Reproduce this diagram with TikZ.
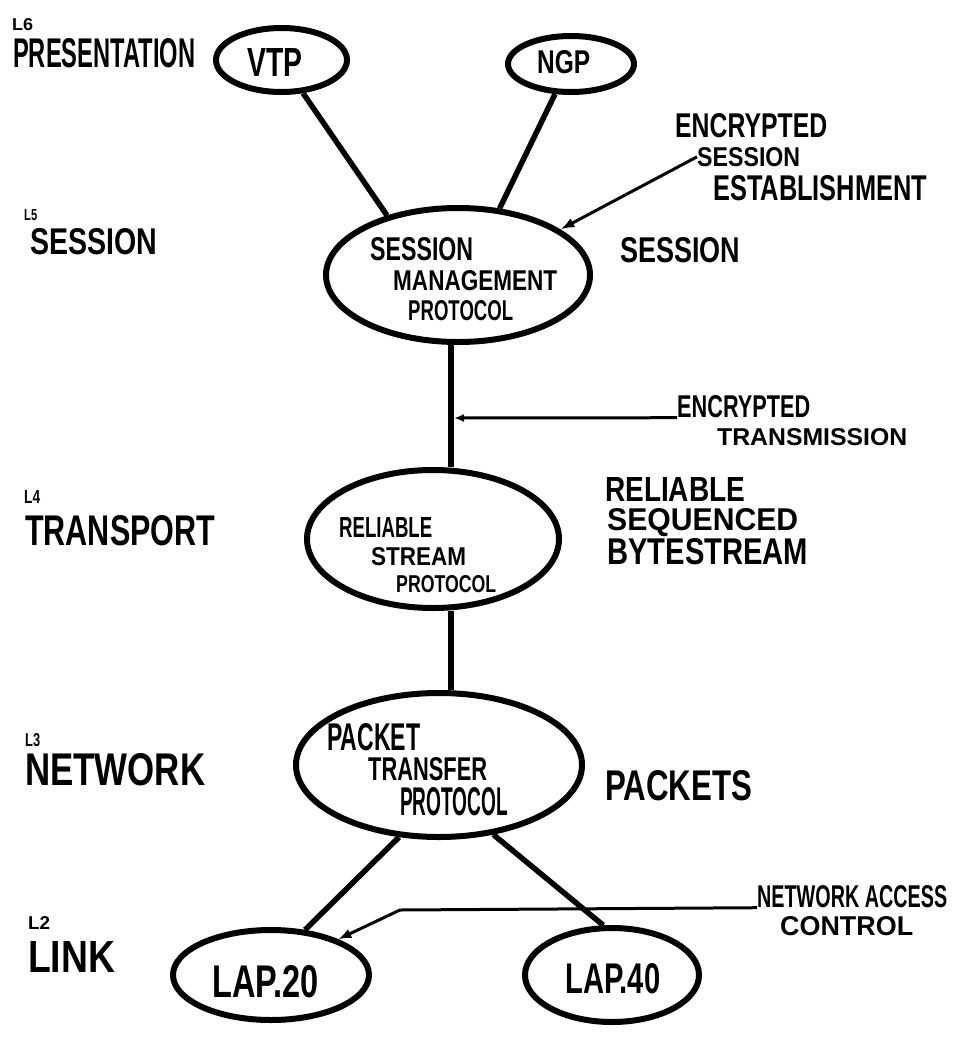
\documentclass[tikz,border=0pt]{standalone}
\usepackage{fontspec}
\setmainfont{Liberation Sans}
\usepackage{graphicx}
\usetikzlibrary{arrows.meta,shapes.geometric}
\newcommand{\fitbox}[3]{\resizebox{#1pt}{#2pt}{\bfseries #3}}
\begin{document}
\begin{tikzpicture}[x=1pt,y=-1pt,
  txt/.style={inner sep=0pt,anchor=north west},
  proto/.style={ellipse,draw=black,line width=6pt,inner sep=0pt},
  conn/.style={line width=5.5pt},
  pointer/.style={line width=3pt,-{Latex[length=14pt,width=10pt]}}]
\useasboundingbox (0,0) rectangle (961,1037);
\fill[white] (0,0) rectangle (961,1037);
% layer labels
\node[txt] (l6) at (12,18) {\fitbox{21}{12}{L6}};
\node[txt] (pres) at (13,38) {\fitbox{182}{29}{PRESENTATION}};
\node[txt] (l5) at (24,209) {\fitbox{13}{11}{L5}};
\node[txt] (sesl) at (30,228) {\fitbox{127}{26}{SESSION}};
\node[txt] (l4) at (24,490) {\fitbox{16}{13}{L4}};
\node[txt] (trans) at (25,515) {\fitbox{190}{30}{TRANSPORT}};
\node[txt] (l3) at (25,733) {\fitbox{15}{13}{L3}};
\node[txt] (net) at (25,753) {\fitbox{180}{32}{NETWORK}};
\node[txt] (l2) at (28,916) {\fitbox{22}{13}{L2}};
\node[txt] (link) at (28,941) {\fitbox{87}{31}{LINK}};
% protocol ellipses
\node[proto,minimum width=131pt,minimum height=64pt] (vtp) at (281.5,60) {};
\node[proto,minimum width=126pt,minimum height=56pt] (ngp) at (571,64) {};
\node[proto,minimum width=264pt,minimum height=134pt] (smp) at (458,275) {};
\node[proto,minimum width=252pt,minimum height=138pt] (rsp) at (433,539) {};
\node[proto,minimum width=286pt,minimum height=144pt] (ptp) at (439,765) {};
\node[proto,minimum width=196pt,minimum height=90pt] (lap20) at (271,975) {};
\node[proto,minimum width=174pt,minimum height=94pt] (lap40) at (612,975) {};
% texts in ellipses
\node[txt] (vtpt) at (247,48) {\fitbox{55}{28}{VTP}};
\node[txt] (ngpt) at (537,50) {\fitbox{53}{23}{NGP}};
\node[txt] (smp1) at (370,237) {\fitbox{103}{23}{SESSION}};
\node[txt] (smp2) at (393,270) {\fitbox{164}{20}{MANAGEMENT}};
\node[txt] (smp3) at (408,300) {\fitbox{105}{20}{PROTOCOL}};
\node[txt] (rsp1) at (339,517) {\fitbox{93}{20}{RELIABLE}};
\node[txt] (rsp2) at (371,547) {\fitbox{95}{18}{STREAM}};
\node[txt] (rsp3) at (396,575) {\fitbox{100}{17}{PROTOCOL}};
\node[txt] (ptp1) at (327,723) {\fitbox{93}{27}{PACKET}};
\node[txt] (ptp2) at (368,757) {\fitbox{119}{23}{TRANSFER}};
\node[txt] (ptp3) at (400,787) {\fitbox{108}{28}{PROTOCOL}};
\node[txt] (lap20t) at (212,965) {\fitbox{106}{32}{LAP.20}};
\node[txt] (lap40t) at (565,963) {\fitbox{95}{30}{LAP.40}};
% right side labels
\node[txt] (ese1) at (675,113) {\fitbox{152}{24}{ENCRYPTED}};
\node[txt] (ese2) at (697,147) {\fitbox{103}{19}{SESSION}};
\node[txt] (ese3) at (713,175) {\fitbox{214}{25}{ESTABLISHMENT}};
\node[txt] (sesr) at (620,237) {\fitbox{120}{25}{SESSION}};
\node[txt] (et1) at (677,395) {\fitbox{133}{22}{ENCRYPTED}};
\node[txt] (et2) at (717,428) {\fitbox{190}{17}{TRANSMISSION}};
\node[txt] (rsb1) at (605,477) {\fitbox{140}{24}{RELIABLE}};
\node[txt] (rsb2) at (607,508) {\fitbox{191}{22}{SEQUENCED}};
\node[txt] (rsb3) at (607,538) {\fitbox{201}{26}{BYTESTREAM}};
\node[txt] (pkts) at (605,770) {\fitbox{147}{30}{PACKETS}};
\node[txt] (nac1) at (757,885) {\fitbox{190}{22}{NETWORK ACCESS}};
\node[txt] (nac2) at (780,916) {\fitbox{133}{19}{CONTROL}};
% connectors
\coordinate (spine) at (451,0);
\draw[conn] (vtp.-57) -- (smp.140);
\draw[conn] (ngp.-118) -- (smp.58);
\draw[conn] (smp.south -| spine) -- (rsp.north -| spine);
\draw[conn] (rsp.south -| spine) -- (ptp.north -| spine);
\draw[conn] (ptp.-119) -- (lap20.53);
\draw[conn] (ptp.-52) -- (lap40.100);
% pointers
\draw[pointer] (ese2.west) -- (smp.24);
\coordinate (etend) at (454,418);
\draw[line width=3pt,-{Latex[length=10pt,width=8pt]}] (et1.south west) -- (etend);
\coordinate (nacbend) at (400,910);
\draw[line width=3pt,-{Latex[length=13pt,width=10pt]}] (nac1.south west) -- (nacbend) -- (lap20.28);
\end{tikzpicture}
\end{document}
